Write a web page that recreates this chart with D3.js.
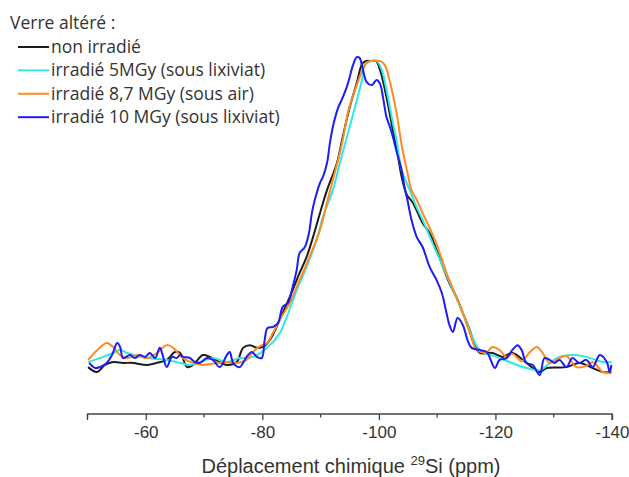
<!DOCTYPE html>
<html>
<head>
<meta charset="utf-8">
<script src="https://cdn.jsdelivr.net/npm/d3@7"></script>
<style>
  body { margin: 0; background: #fff; }
  svg { display: block; }
</style>
</head>
<body>
<div id="chart"></div>
<script>
'use strict';

var width = 629;
var height = 477;

// legend / series labels
var legendTitle = 'Verre altéré :';
var seriesNames = ['non irradié', 'irradié 5MGy (sous lixiviat)', 'irradié 8,7 MGy (sous air)', 'irradié 10 MGy (sous lixiviat)'];
var seriesColors = ['#1c1c1c', '#2ee8e8', '#ff8a22', '#1c1cf5'];

// axis
var xDomain = [-50, -140];
var majorTicks = [-60, -80, -100, -120, -140];
var minorTicks = [-50, -70, -90, -110, -130];

// spectra : [ppm, normalised intensity]
var nonIrradie = [
  [-50.1,-0.017],[-51.6,-0.033],[-53.0,-0.01],[-54.4,0.0],[-56.1,-0.003],[-57.8,-0.003],
  [-60.2,-0.01],[-61.9,-0.003],[-63.6,0.007],[-65.0,0.033],[-65.9,0.03],[-67.1,-0.017],
  [-68.1,-0.01],[-69.8,0.023],[-71.0,0.017],[-72.7,0.0],[-73.9,-0.01],[-75.6,0.0],
  [-76.7,0.047],[-77.9,0.056],[-79.1,0.047],[-80.1,0.05],[-81.3,0.073],[-83.5,0.163],
  [-85.2,0.239],[-86.4,0.296],[-87.6,0.349],[-88.7,0.415],[-89.9,0.495],[-91.1,0.571],
  [-92.8,0.661],[-93.8,0.748],[-95.0,0.847],[-96.2,0.927],[-97.2,0.993],[-97.9,1.0],
  [-98.8,1.0],[-99.5,1.0],[-100.2,0.97],[-101.3,0.88],[-102.2,0.79],[-103.1,0.704],
  [-103.9,0.615],[-104.8,0.555],[-105.8,0.53],[-107.5,0.462],[-108.7,0.429],[-109.9,0.372],
  [-111.0,0.316],[-112.1,0.262],[-113.3,0.216],[-114.4,0.163],[-115.6,0.106],[-116.5,0.056],
  [-117.3,0.03],[-119.5,0.03],[-121.2,0.017],[-122.9,0.03],[-124.7,0.007],[-126.4,-0.02],
  [-127.6,-0.033],[-128.8,-0.02],[-132.2,-0.017],[-134.4,-0.003],[-136.7,-0.02],
  [-138.4,-0.033],[-139.9,-0.033]
];

var irradie5 = [
  [-50.1,0.0],[-52.1,0.013],[-54.4,0.03],[-55.6,0.04],[-56.8,0.03],[-60.2,0.013],
  [-63.6,0.007],[-65.9,-0.003],[-67.6,-0.01],[-69.3,0.0],[-71.5,0.013],[-73.9,0.0],
  [-76.1,0.013],[-78.4,0.017],[-80.8,0.047],[-83.0,0.096],[-84.2,0.15],[-85.9,0.239],
  [-87.6,0.316],[-89.3,0.405],[-90.4,0.482],[-92.1,0.571],[-93.3,0.661],[-94.7,0.761],
  [-95.9,0.847],[-97.1,0.937],[-97.6,0.99],[-98.6,1.0],[-99.6,1.0],[-100.5,0.97],
  [-101.3,0.904],[-102.2,0.814],[-103.1,0.728],[-103.9,0.638],[-105.3,0.571],[-106.3,0.522],
  [-107.5,0.472],[-109.2,0.395],[-111.0,0.316],[-112.7,0.239],[-114.4,0.163],[-115.9,0.09],
  [-117.0,0.047],[-117.8,0.033],[-120.2,0.017],[-122.4,0.0],[-125.3,-0.02],[-127.6,-0.027],
  [-130.5,0.013],[-133.2,0.023],[-135.6,0.017],[-138.4,0.0],[-139.9,0.0]
];

var irradie87 = [
  [-50.1,0.007],[-52.1,0.047],[-53.3,0.063],[-54.4,0.05],[-55.6,0.023],[-56.8,0.013],
  [-58.5,0.023],[-60.2,0.013],[-61.9,0.03],[-63.6,0.056],[-64.7,0.047],[-66.4,0.013],
  [-68.1,-0.003],[-69.8,-0.01],[-72.2,-0.003],[-73.9,0.0],[-75.6,-0.003],[-77.3,0.007],
  [-78.4,0.033],[-79.6,0.053],[-80.8,0.063],[-81.8,0.096],[-83.0,0.14],[-84.7,0.196],
  [-86.4,0.272],[-88.1,0.349],[-89.9,0.439],[-91.2,0.538],[-92.1,0.605],[-93.0,0.671],
  [-93.8,0.738],[-94.7,0.83],[-95.6,0.887],[-96.2,0.92],[-97.2,0.97],[-98.1,0.997],
  [-99.3,1.0],[-100.2,1.0],[-101.0,0.987],[-101.9,0.93],[-103.1,0.82],[-103.9,0.721],
  [-104.8,0.638],[-105.6,0.571],[-106.5,0.538],[-107.5,0.495],[-109.1,0.429],[-110.1,0.382],
  [-111.6,0.296],[-113.3,0.216],[-114.4,0.163],[-115.6,0.096],[-116.8,0.04],[-118.5,0.033],
  [-119.5,0.05],[-120.7,0.04],[-121.9,0.017],[-122.9,0.027],[-124.5,0.003],[-125.9,0.033],
  [-127.1,0.05],[-128.1,0.03],[-129.3,-0.003],[-131.0,0.013],[-132.2,0.02],[-133.9,-0.017],
  [-135.6,-0.013],[-136.7,0.0],[-138.4,-0.033],[-139.9,-0.037]
];

var irradie10 = [
  [-50.3,-0.003],[-51.3,-0.02],[-52.1,-0.017],[-53.3,-0.003],[-54.2,0.023],[-55.1,0.063],
  [-55.6,0.05],[-56.1,0.013],[-57.3,0.023],[-58.1,0.013],[-59.0,0.023],[-59.9,0.017],
  [-60.7,0.03],[-61.6,0.013],[-62.4,0.047],[-62.9,0.023],[-63.6,-0.017],[-64.5,0.017],
  [-65.3,0.013],[-65.9,0.023],[-66.4,0.017],[-67.6,0.013],[-68.4,0.0],[-69.3,-0.003],
  [-70.5,0.013],[-71.5,0.007],[-72.7,-0.017],[-73.9,0.023],[-74.4,0.033],[-75.0,-0.003],
  [-76.1,-0.017],[-77.3,0.017],[-78.2,0.033],[-79.1,0.017],[-79.9,0.013],[-80.4,0.073],
  [-80.9,0.113],[-81.8,0.116],[-82.7,0.13],[-83.5,0.183],[-84.4,0.196],[-85.2,0.249],
  [-85.9,0.306],[-86.4,0.362],[-87.3,0.382],[-88.0,0.429],[-88.5,0.495],[-89.0,0.538],
  [-89.9,0.595],[-90.4,0.615],[-91.1,0.661],[-91.6,0.728],[-92.1,0.781],[-93.0,0.844],
  [-93.6,0.87],[-94.5,0.914],[-95.0,0.947],[-95.5,0.983],[-96.2,1.013],[-96.7,1.01],
  [-97.2,0.977],[-97.9,0.93],[-98.8,0.92],[-99.6,0.937],[-100.2,0.924],[-100.7,0.88],
  [-101.3,0.814],[-101.9,0.781],[-102.4,0.748],[-103.1,0.694],[-103.9,0.638],[-104.4,0.581],
  [-104.9,0.538],[-105.6,0.472],[-106.5,0.415],[-107.5,0.382],[-108.7,0.316],[-109.9,0.272],
  [-110.8,0.229],[-111.6,0.163],[-112.1,0.123],[-112.7,0.1],[-113.5,0.146],[-114.4,0.123],
  [-115.2,0.073],[-115.9,0.047],[-117.3,0.04],[-118.5,0.033],[-119.9,-0.02],[-120.7,0.007],
  [-121.9,0.013],[-122.9,0.04],[-123.8,0.056],[-124.5,0.04],[-125.3,-0.003],[-126.4,-0.01],
  [-127.6,-0.043],[-128.4,0.013],[-129.3,0.007],[-130.1,-0.003],[-131.0,0.007],[-132.2,-0.017],
  [-133.2,0.013],[-134.4,-0.003],[-135.6,0.007],[-136.7,-0.017],[-137.9,0.023],[-139.1,0.0],
  [-139.6,-0.033],[-139.9,-0.01]
];

var spectra = [nonIrradie, irradie5, irradie87, irradie10];

var svg = d3.select('#chart').append('svg')
  .attr('width', width)
  .attr('height', height);

var xScale = d3.scaleLinear().domain(xDomain).range([87.5, 612]);
var yScale = d3.scaleLinear().domain([0, 1]).range([362, 61]);

var line = d3.line()
  .x(function(d){ return xScale(d[0]); })
  .y(function(d){ return yScale(d[1]); })
  .curve(d3.curveCatmullRom.alpha(0.5));

// spectra, drawn in legend order
svg.append('g').selectAll('path')
  .data(spectra)
  .enter().append('path')
  .attr('d', line)
  .attr('fill', 'none')
  .attr('stroke', function(d, i){ return seriesColors[i]; })
  .attr('stroke-width', 2)
  .attr('stroke-linejoin', 'round');

// x axis : labelled majors and short minors
var axisY = 414;
var gAxis = svg.append('g')
  .attr('transform', 'translate(0,' + axisY + ')')
  .call(d3.axisBottom(xScale).tickValues(majorTicks).tickSize(6).tickPadding(6)
    .tickFormat(function(d){ return d; }));

gAxis.select('.domain').attr('stroke', '#444').attr('stroke-width', 1.3)
  .attr('d', 'M' + xScale(-50) + ',6V0H' + xScale(-140) + 'V6');
gAxis.selectAll('.tick line').attr('stroke', '#444').attr('stroke-width', 1.3);
gAxis.selectAll('.tick text')
  .attr('fill', '#333')
  .style('font-family', 'Liberation Sans, Arial, sans-serif')
  .style('font-size', '17px');

gAxis.selectAll('.minor')
  .data(minorTicks)
  .enter().append('line')
  .attr('class', 'minor')
  .attr('x1', function(d){ return xScale(d); })
  .attr('x2', function(d){ return xScale(d); })
  .attr('y1', 0).attr('y2', 3.5)
  .attr('stroke', '#444').attr('stroke-width', 1.3);

// axis title
var title = svg.append('text')
  .attr('x', 351)
  .attr('y', 473)
  .attr('text-anchor', 'middle')
  .attr('fill', '#333')
  .style('font-family', 'Liberation Sans, Arial, sans-serif')
  .style('font-size', '20px');
title.append('tspan').text('Déplacement chimique ');
title.append('tspan').attr('dy', -8).style('font-size', '13px').text('29');
title.append('tspan').attr('dy', 8).text('Si (ppm)');

// legend
var legendFont = 'Open Sans, sans-serif';
svg.append('text')
  .attr('x', 10).attr('y', 29)
  .attr('fill', '#333')
  .style('font-family', legendFont)
  .style('font-size', '17.5px')
  .text(legendTitle);

var legend = svg.append('g').selectAll('g')
  .data(seriesNames)
  .enter().append('g')
  .attr('transform', function(d, i){ return 'translate(0,' + (47 + i * 23.4) + ')'; });

legend.append('line')
  .attr('x1', 18).attr('x2', 49)
  .attr('stroke', function(d, i){ return seriesColors[i]; })
  .attr('stroke-width', 2);

legend.append('text')
  .attr('x', 51).attr('y', 6)
  .attr('fill', '#333')
  .style('font-family', legendFont)
  .style('font-size', '17.5px')
  .text(function(d){ return d; });
</script>
</body>
</html>
